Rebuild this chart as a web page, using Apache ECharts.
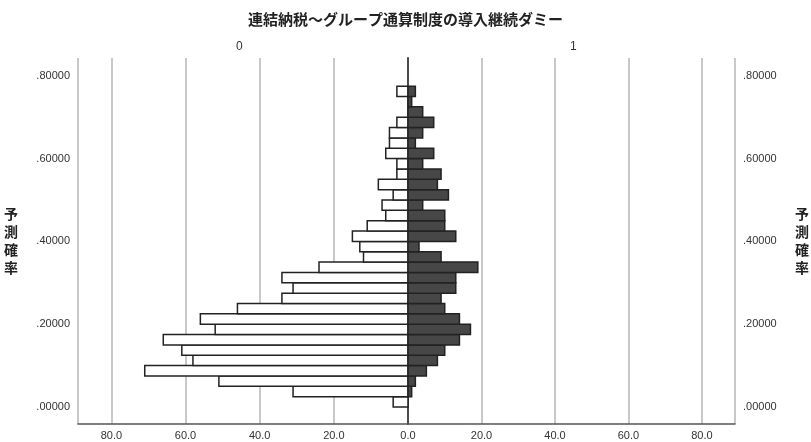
<!DOCTYPE html>
<html>
<head>
<meta charset="utf-8">
<script src="https://cdn.jsdelivr.net/npm/echarts@6/dist/echarts.min.js"></script>
<style>
  html, body { margin: 0; padding: 0; background: #fff; }
  #chart { width: 811px; height: 442px; }
</style>
</head>
<body>
<div id="chart"></div>
<script>
// Histogram bins of predicted probability (lower edges), width 0.025
const binLower = [0.000, 0.025, 0.050, 0.075, 0.100, 0.125, 0.150, 0.175, 0.200, 0.225,
                  0.250, 0.275, 0.300, 0.325, 0.350, 0.375, 0.400, 0.425, 0.450, 0.475,
                  0.500, 0.525, 0.550, 0.575, 0.600, 0.625, 0.650, 0.675, 0.700, 0.725, 0.750];
const binWidth = 0.025;
// Frequencies for group "0" (drawn to the left) and group "1" (drawn to the right)
const group0 = [4, 31, 51, 71, 58, 61, 66, 52, 56, 46, 34, 31, 34, 24, 12, 13, 15, 11, 6, 7,
                4, 8, 3, 3, 6, 5, 5, 3, 0, 0, 3];
const group1 = [0, 1, 2, 5, 8, 10, 14, 17, 14, 10, 9, 13, 13, 19, 9, 3, 13, 10, 10, 4,
                11, 8, 9, 4, 7, 2, 4, 7, 4, 1, 2];
const groupNames = ['0', '1'];
const yTicks = [0, 0.2, 0.4, 0.6, 0.8];

const title = '連結納税～グループ通算制度の導入継続ダミー';
const yName = '予測確率';

const Y_MIN = -0.041, Y_MAX = 0.843, X_MAX = 89;
const labelFont = { fontFamily: 'Liberation Sans, Arial, sans-serif', fontSize: 11, color: '#333' };
const cjkFont = 'Noto Sans CJK JP, sans-serif';

function rows(counts) {
  return binLower.map((lo, i) => [lo, lo + binWidth, counts[i]]);
}

function renderBar(fill, stroke) {
  return function (params, api) {
    const count = api.value(2);
    if (!count) return null;
    const a = api.coord([0, api.value(0)]);
    const b = api.coord([count, api.value(1)]);
    return {
      type: 'rect',
      shape: {
        x: Math.min(a[0], b[0]),
        y: Math.min(a[1], b[1]),
        width: Math.abs(b[0] - a[0]),
        height: Math.abs(b[1] - a[1])
      },
      style: { fill: fill, stroke: stroke, lineWidth: 1.5 }
    };
  };
}

function fmtY(v) { return v.toFixed(5).replace(/^0/, ''); }

const yBase = {
  type: 'value', min: Y_MIN, max: Y_MAX,
  splitLine: { show: false },
  axisTick: { show: false },
  axisLine: { show: true, lineStyle: { color: '#555', width: 1.5 } }
};

const xBase = {
  type: 'value', min: 0, max: X_MAX, interval: 20,
  axisTick: { show: false },
  axisLine: { show: true, onZero: false, lineStyle: { color: '#555', width: 1.5 } },
  splitLine: { show: true, lineStyle: { color: '#c8c8c8', width: 2 } },
  axisLabel: Object.assign({ formatter: v => v.toFixed(1), margin: 6, showMaxLabel: false }, labelFont)
};

const yNameStyle = { fontFamily: cjkFont, fontSize: 14, fontWeight: 'bold', color: '#222', lineHeight: 18 };

const chart = echarts.init(document.getElementById('chart'), null, { renderer: 'canvas' });

chart.setOption({
  backgroundColor: '#fff',
  animation: false,
  title: {
    text: title, left: 'center', top: 7,
    textStyle: { fontFamily: cjkFont, fontSize: 15, fontWeight: 'bold', color: '#222' }
  },
  graphic: [
    { type: 'text', left: 236, top: 41, style: { text: groupNames[0], font: '12px Liberation Sans, Arial, sans-serif', fill: '#333' } },
    { type: 'text', left: 570, top: 41, style: { text: groupNames[1], font: '12px Liberation Sans, Arial, sans-serif', fill: '#333' } }
  ],
  grid: [
    { left: 78, right: 403, top: 58, bottom: 18 },
    { left: 408, right: 70, top: 58, bottom: 18 }
  ],
  xAxis: [
    Object.assign({}, xBase, { gridIndex: 0, inverse: true }),
    Object.assign({}, xBase, { gridIndex: 1, axisLabel: Object.assign({}, xBase.axisLabel, { showMinLabel: false }) })
  ],
  yAxis: [
    Object.assign({}, yBase, {
      gridIndex: 0, position: 'left',
      axisLabel: Object.assign({ customValues: yTicks, formatter: fmtY, margin: 8 }, labelFont),
      name: yName.split('').join('\n'), nameLocation: 'middle', nameRotate: 0, nameGap: 60,
      nameTextStyle: yNameStyle
    }),
    Object.assign({}, yBase, {
      gridIndex: 1, position: 'right',
      axisLabel: Object.assign({ customValues: yTicks, formatter: fmtY, margin: 8 }, labelFont),
      name: yName.split('').join('\n'), nameLocation: 'middle', nameRotate: 0, nameGap: 60,
      nameTextStyle: yNameStyle
    }),
    // centre line at zero frequency
    Object.assign({}, yBase, {
      gridIndex: 1, position: 'left', axisLabel: { show: false },
      axisLine: { show: true, lineStyle: { color: '#444', width: 1.5 } }
    })
  ],
  series: [
    {
      type: 'custom', name: groupNames[0], xAxisIndex: 0, yAxisIndex: 0,
      renderItem: renderBar('#ffffff', '#222'),
      encode: { x: 2, y: [0, 1] },
      data: rows(group0), z: 5
    },
    {
      type: 'custom', name: groupNames[1], xAxisIndex: 1, yAxisIndex: 1,
      renderItem: renderBar('#474747', '#222'),
      encode: { x: 2, y: [0, 1] },
      data: rows(group1), z: 5
    }
  ]
});
</script>
</body>
</html>
